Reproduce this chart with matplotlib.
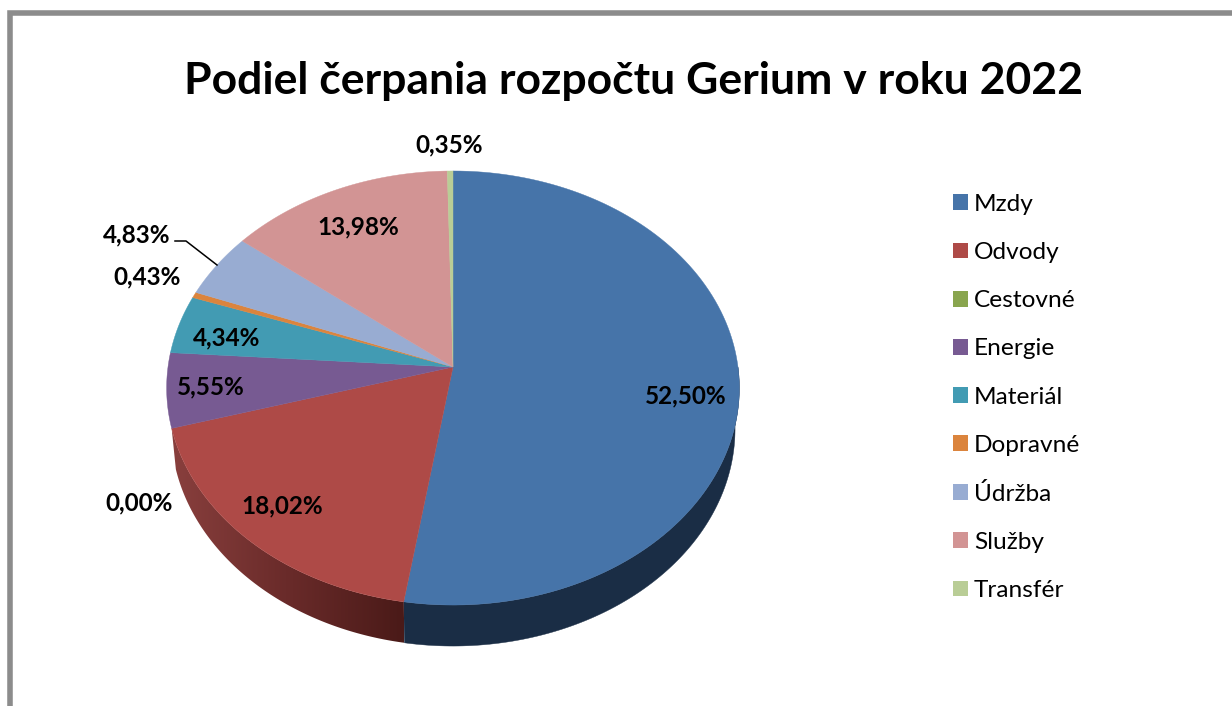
import numpy as np
import matplotlib
matplotlib.use('Agg')
import matplotlib.pyplot as plt
from matplotlib.colors import LinearSegmentedColormap
from matplotlib.patches import Patch, Polygon

categories = ['Mzdy', 'Odvody', 'Cestovné', 'Energie', 'Materiál', 'Dopravné', 'Údržba', 'Služby', 'Transfér']
shares = [52.50, 18.02, 0.00, 5.55, 4.34, 0.43, 4.83, 13.98, 0.35]
colors = ['#4674a9', '#ae4a47', '#89a54e', '#775a92', '#429bb3', '#db843d', '#98acd2', '#d29494', '#b9cd96']
label_xy = [(686, 396), (282, 506), (139, 503), (211, 387), (227, 338), (147, 277), (137, 235), (358, 227), (449, 145)]

title = 'Podiel čerpania rozpočtu Gerium v roku 2022'

plt.rcParams['font.family'] = ['Lato', 'DejaVu Sans']

# kolac je kreslený v pixeloch, perspektíva podla referencie
CX, CY = 453, 367
RX, RY = 285, 215
PERSP = -0.0968
DEPTH = 41
SHRINK = 0.985


def rim(percent, bottom=False):
    """Body na okraji kolaca, percent sa počíta od vrchu v smere hodín."""
    a = np.radians(np.asarray(percent) * 3.6)
    u, v = np.sin(a), np.cos(a)
    den = 1 - PERSP * v
    x = RX * u / den
    y = -RY * v / den
    if bottom:
        return CX + SHRINK * x, CY + y + DEPTH
    return CX + x, CY + y


def side_polygon(start, end, **kwargs):
    """Bočná stena dielika: horný okraj a späť po dolnom okraji."""
    p = np.linspace(start, end, 120)
    xt, yt = rim(p)
    xb, yb = rim(p, bottom=True)
    pts = np.column_stack([np.r_[xt, xb[::-1]], np.r_[yt, yb[::-1]]])
    return Polygon(pts, closed=True, **kwargs)


def main():
    fig = plt.figure(figsize=(12.32, 7.06), dpi=100)
    ax = fig.add_axes([0, 0, 1, 1])
    ax.set_xlim(0, 1232)
    ax.set_ylim(706, 0)
    ax.axis('off')

    # rámček grafu, len vľavo a hore
    ax.plot([10, 10, 1232], [706, 12.5, 12.5], color='#8c8c8c', lw=4, solid_joinstyle='miter', zorder=0)

    ax.text(633, 81, title, fontsize=32, fontweight='bold', ha='center', va='center', color='black')

    edges = np.concatenate([[0], np.cumsum(shares)])

    # boky su vidiet iba pri mzdach a odvodoch
    ax.add_patch(side_polygon(25, edges[1], facecolor='#1a2d45', edgecolor='#1a2d45', lw=0.3, zorder=1))
    red_side = side_polygon(edges[1], edges[2], facecolor='none', edgecolor='none', zorder=1)
    ax.add_patch(red_side)
    cmap = LinearSegmentedColormap.from_list('red_side', ['#8a403e', '#6a2b2a', '#4a1a18'])
    img = ax.imshow(np.linspace(0, 1, 256).reshape(1, -1), cmap=cmap, aspect='auto',
                    extent=(168, 404, 650, 420), zorder=1)
    img.set_clip_path(red_side)
    ax.set_xlim(0, 1232)
    ax.set_ylim(706, 0)

    for i, color in enumerate(colors):
        if shares[i] == 0:
            continue
        p = np.linspace(edges[i], edges[i + 1], 120)
        x, y = rim(p)
        pts = np.column_stack([np.r_[CX, x], np.r_[CY, y]])
        ax.add_patch(Polygon(pts, closed=True, facecolor=color, edgecolor=color, lw=0.3, zorder=2))

    for share, (lx, ly) in zip(shares, label_xy):
        ax.text(lx, ly, f'{share:.2f}%'.replace('.', ','), fontsize=17.5, fontweight='bold',
                ha='center', va='center', color='black', zorder=4)

    # vodiaca čiara k 4,83 %
    ax.plot([175, 186, 217], [241, 241, 265], color='black', lw=1.1, zorder=3)

    handles = [Patch(facecolor=c, edgecolor='none') for c in colors]
    ax.legend(handles, categories, loc='upper left', bbox_to_anchor=(953 / 1232, 1 - 194 / 706),
              frameon=False, fontsize=17.6, handlelength=0.62, handleheight=0.62, handletextpad=0.23,
              labelspacing=1.11, borderpad=0, borderaxespad=0, labelcolor='black')

    fig.savefig('out.png', dpi=100)


if __name__ == "__main__":
    main()
